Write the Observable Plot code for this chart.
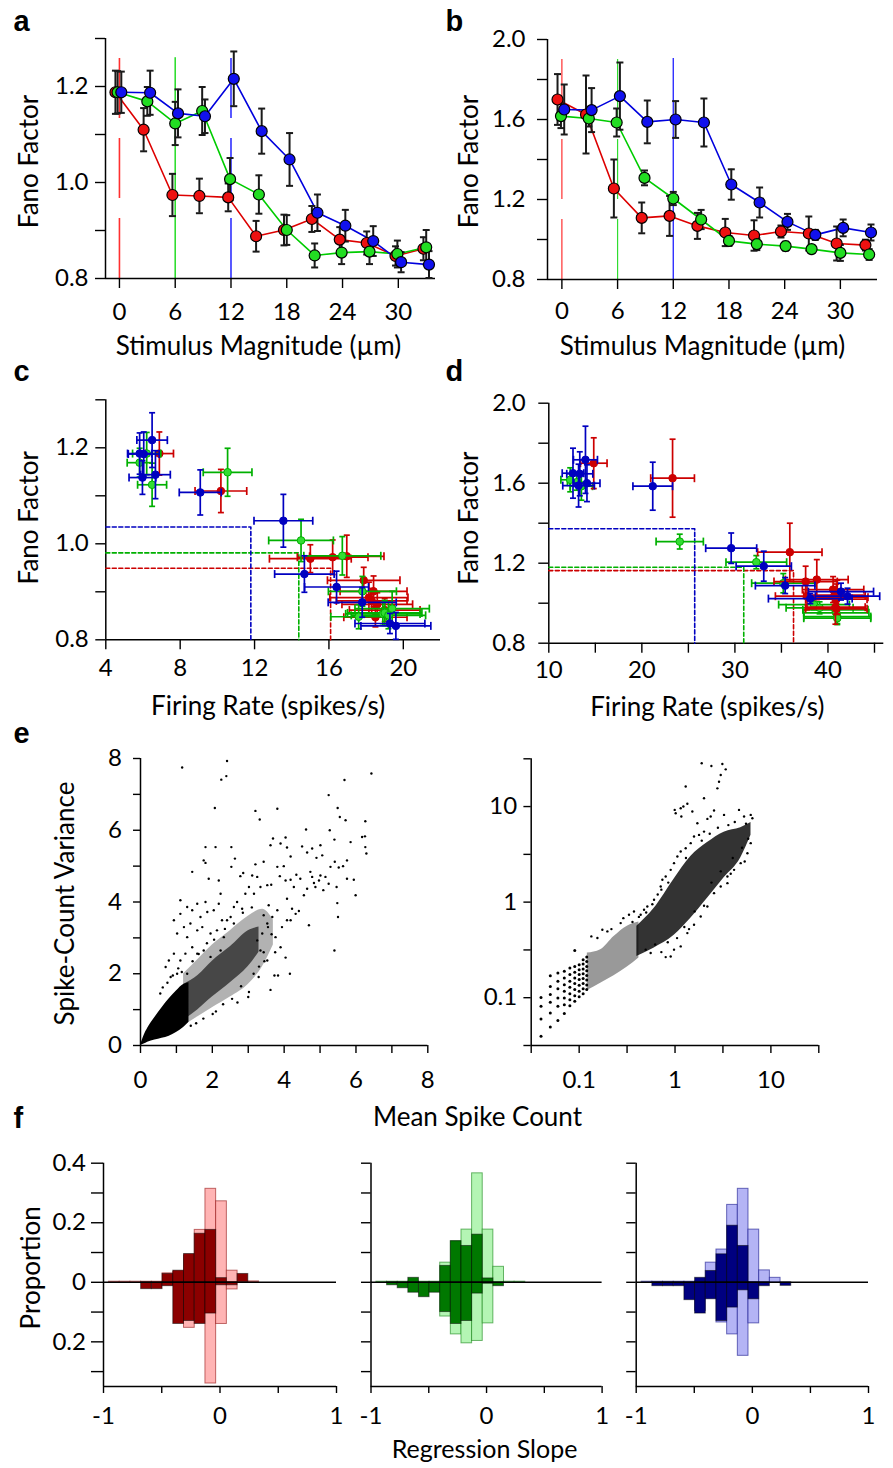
<!DOCTYPE html>
<html><head><meta charset="utf-8">
<script src="https://cdn.jsdelivr.net/npm/d3@7"></script>
<script src="https://cdn.jsdelivr.net/npm/@observablehq/plot@0.6"></script>
<style>
body{margin:0;background:#fff;}
#root{position:relative;width:893px;height:1468px;overflow:hidden;background:#fff;}
</style></head>
<body><div id="root"></div>
<script>
// ================= DATA =================
// Panel a (Fano factor vs stimulus magnitude)
const stimLines = [0, 6, 12];
const aRedX   = [-0.43,2.6,5.7,8.6,11.7,14.7,17.7,20.7,23.7,26.6,29.7,32.7];
const aRedY   = [1.188,1.110,0.974,0.972,0.969,0.888,0.901,0.924,0.881,0.874,0.847,0.862];
const aRedE   = [0.045,0.045,0.044,0.036,0.029,0.032,0.032,0.027,0.026,0.024,0.020,0.024];
const aGreenX = [-0.2,3.0,6.0,8.9,11.9,15.0,18.0,21.0,23.9,26.9,29.9,33.0];
const aGreenY = [1.188,1.169,1.123,1.149,1.007,0.975,0.901,0.848,0.854,0.856,0.851,0.865];
const aGreenE = [0.044,0.030,0.045,0.050,0.044,0.040,0.031,0.025,0.024,0.026,0.028,0.036];
const aBlueX  = [0.2,3.3,6.3,9.2,12.3,15.3,18.3,21.3,24.3,27.3,30.3,33.3];
const aBlueY  = [1.188,1.187,1.144,1.138,1.216,1.107,1.048,0.937,0.910,0.878,0.834,0.829];
const aBlueE  = [0.043,0.046,0.050,0.035,0.057,0.047,0.055,0.038,0.033,0.031,0.021,0.028];
// Panel b
const bRedX   = [-0.47,2.6,5.6,8.6,11.6,14.6,17.6,20.7,23.6,26.6,29.6,32.7];
const bRedY   = [1.700,1.625,1.255,1.108,1.118,1.068,1.035,1.020,1.040,1.030,0.980,0.972];
const bRedE   = [0.127,0.195,0.145,0.077,0.100,0.065,0.068,0.076,0.030,0.085,0.085,0.027];
const bGreenX = [-0.1,2.9,5.9,8.9,12.0,15.0,18.0,21.0,24.1,26.9,30.0,33.1];
const bGreenY = [1.617,1.605,1.585,1.308,1.205,1.100,0.993,0.977,0.967,0.952,0.933,0.925];
const bGreenE = [0.060,0.040,0.070,0.037,0.033,0.048,0.025,0.030,0.022,0.020,0.040,0.027];
const bBlueX  = [0.25,3.2,6.25,9.2,12.25,15.3,18.25,21.3,24.3,27.3,30.3,33.3];
const bBlueY  = [1.650,1.647,1.717,1.588,1.600,1.585,1.275,1.185,1.088,1.023,1.058,1.035];
const bBlueE  = [0.125,0.110,0.168,0.107,0.092,0.120,0.076,0.075,0.040,0.025,0.042,0.040];
// Panel c (firing rate for the Fano factors of panel a)
const cRedRate    = [6.88,10.19,16.96,16.2,15.0,18.15,18.4,17.87,18.3,18.6,18.5,19.0];
const cRedRateE   = [0.76,1.39,2.0,1.9,2.2,2.1,1.8,1.95,1.9,1.9,1.7,1.9];
const cGreenRate  = [6.2,5.82,6.49,10.55,14.5,16.72,17.8,17.6,18.9,19.0,19.2,19.4];
const cGreenRateE = [0.76,0.67,0.78,1.31,1.74,2.07,1.83,1.5,2.0,2.0,2.0,2.0];
const cBlueRate   = [5.82,6.04,6.67,5.97,6.49,9.08,13.55,14.68,16.41,17.79,19.28,19.6];
const cBlueRateE  = [0.65,0.83,0.8,0.72,0.82,1.13,1.58,1.6,1.72,1.83,1.88,1.88];
const cThreshRate = [16.09,14.38,11.8];   // red, green, blue
const cThreshFano = [0.949,0.981,1.035];
// Panel d (firing rate for the Fano factors of panel b)
const dRedRate    = [14.83,23.3,35.9,37.6,38.8,40.55,37.75,40.9,40.7,41.0,40.8,40.9];
const dRedRateE   = [1.43,2.35,3.46,3.4,3.37,3.3,3.4,3.3,3.3,3.3,3.2,3.3];
const dGreenRate  = [12.3,13.0,13.5,24.07,32.3,35.2,38.5,39.1,40.8,40.9,41.0,41.0];
const dGreenRateE = [1.0,1.0,1.2,2.54,3.26,3.4,3.8,3.6,3.5,3.5,3.6,3.6];
const dBlueRate   = [12.6,13.33,13.94,13.2,14.1,21.17,29.6,33.1,35.4,38.1,41.4,42.1];
const dBlueRateE  = [1.16,1.4,1.29,1.7,1.4,2.13,2.74,2.97,3.2,4.5,3.5,3.46];
const dThreshRate = [36.3,30.95,25.68];
const dThreshFano = [1.163,1.180,1.372];
// Panel e, linear: dense core outline, dense band outlines, individual points
const eCoreMean = [0,0.1,0.2,0.4,0.6,0.8,1.0,1.2,1.35];
const eCoreLo   = [0,0.04,0.09,0.15,0.2,0.26,0.36,0.5,0.65];
const eCoreHi   = [0,0.28,0.48,0.78,1.05,1.3,1.52,1.7,1.75];
const eBandMean = [1.2,1.6,2.0,2.5,3.0,3.4,3.7];
const eBandLo   = [0.55,0.8,1.05,1.35,1.7,2.2,2.8];
const eBandHi   = [2.0,2.4,2.8,3.2,3.6,3.8,3.5];
const eInnerMean = [1.2,1.6,2.0,2.5,3.0,3.3];
const eInnerLo   = [0.7,1.0,1.35,1.75,2.2,2.6];
const eInnerHi   = [1.7,1.95,2.35,2.75,3.2,3.3];
const eLinPts = [
[1.16,7.75],[2.41,7.93],[2.25,7.41],[2.39,7.51],[2.07,6.62],[6.43,7.58],[5.68,7.40],[5.24,6.98],[5.49,6.62],[5.55,6.37],
[5.71,6.28],[6.26,6.25],[3.20,6.54],[3.32,6.30],[3.81,6.60],[6.17,5.81],[6.25,5.83],[6.26,5.53],[6.29,5.35],[5.85,5.67],
[5.27,6.00],[4.61,6.02],[5.40,5.74],[5.75,5.16],[5.64,5.00],[5.75,4.65],[5.94,4.62],[5.99,4.19],[5.48,3.97],[5.50,3.58],
[5.40,2.65],[4.69,3.35],[4.16,2.00],[4.04,2.45],[3.62,1.55],[3.73,1.95],[3.83,1.95],[3.29,1.91],[3.02,1.49],[2.01,0.88],
[1.81,5.53],[2.09,5.53],[2.53,5.53],[1.44,4.84],[1.76,5.16],[1.81,5.09],[1.90,4.65],[2.18,4.60],[2.23,4.23],[2.63,5.21],
[2.53,4.98],[2.78,4.72],[2.86,4.81],[3.11,4.74],[3.20,5.05],[3.43,5.12],[3.62,5.58],[3.69,5.77],[3.90,5.63],[4.04,5.80],
[4.08,5.52],[4.18,5.27],[4.50,5.55],[4.64,5.38],[4.78,5.49],[4.90,5.23],[5.01,5.58],[5.06,5.30],[3.53,4.47],[3.64,4.48],
[3.81,4.98],[3.88,4.72],[3.99,5.00],[4.04,4.60],[4.18,4.62],[4.27,4.42],[4.34,4.76],[4.45,4.65],[4.55,4.19],[4.64,4.37],
[4.78,4.70],[4.83,4.53],[4.87,4.42],[4.97,4.60],[5.09,4.33],[5.15,4.70],[5.24,4.51],[5.29,4.98],[5.41,5.12],[5.46,4.42],
[5.52,4.96],[5.01,4.74],[4.73,4.84],[4.22,3.81],[4.18,3.49],[4.32,3.67],[4.41,3.75],[4.08,3.49],[4.08,4.09],[3.81,3.77],
[3.94,3.30],[3.57,3.91],[3.67,3.58],[3.53,3.40],[3.43,3.63],[3.39,3.12],[3.90,2.74],[3.76,3.02],[3.43,2.60],[3.53,2.37],
[3.34,2.65],[3.25,2.93],[1.11,4.05],[1.30,3.86],[1.44,3.77],[1.58,3.95],[1.67,3.58],[1.81,4.00],[1.86,3.72],[2.04,3.77],
[2.18,3.95],[2.27,3.49],[2.41,3.49],[2.51,3.58],[2.60,3.86],[2.69,4.00],[2.83,3.81],[2.92,4.23],[3.02,4.42],[3.16,4.23],
[3.25,4.70],[3.34,4.42],[1.21,3.30],[1.39,3.40],[1.58,3.21],[1.72,3.30],[1.95,3.12],[2.13,3.21],[2.32,3.02],[1.11,3.67],
[0.93,3.49],[1.02,3.12],[1.30,3.02],[1.44,2.74],[1.58,2.56],[0.93,2.56],[1.11,2.37],[1.30,2.00],[0.79,2.37],[0.70,2.19],
[0.84,1.91],[1.02,2.00],[1.25,2.56],[1.76,2.65],[1.95,2.47],[2.23,2.65],[0.55,1.45],[0.62,1.62],[0.75,1.75],[0.9,1.95],
[1.05,2.15],[1.15,2.05],[1.45,2.35],[1.62,2.55],[1.85,2.85],[2.05,2.95],[2.35,3.25],[2.6,3.4],[2.85,3.7],[3.1,3.85],
[3.55,3.3],[3.65,3.1],[3.3,2.2],[3.15,2.0],[2.8,1.65],[2.55,1.3],[2.3,1.15],[2.1,0.95],[1.75,0.75],[1.55,0.62],
[1.4,0.55],[3.45,2.35],[3.75,2.6],[3.0,1.35],[2.7,1.2]
];
// Panel e, log: dense core, low-count fan, discrete low-count columns, individual points
const eLogCoreMean = [0.40,0.60,0.98,1.46,2.18,3.25,4.84,6.2];
const eLogCoreLo   = [0.27,0.33,0.45,0.68,1.1,1.8,2.9,5.0];
const eLogCoreHi   = [0.56,0.85,1.75,3.0,4.2,5.4,6.0,6.8];
const eFanMean = [0.1217,0.1676,0.231,0.318,0.42];
const eFanLo   = [0.119,0.142,0.170,0.209,0.26];
const eFanHi   = [0.293,0.318,0.437,0.56,0.62];
const latticeMean = [0.04,0.05,0.06,0.07,0.08,0.09,0.10,0.11,0.12];
const latticeVar = [
 [0.1006,0.0813,0.0600,0.0396],
 [0.1693,0.1311,0.1077,0.0894,0.0691,0.0494],
 [0.1813,0.1484,0.1237,0.0993,0.0813,0.0576],
 [0.1887,0.1609,0.1369,0.1167,0.0993,0.0846,0.0683],
 [0.2045,0.1745,0.1484,0.1283,0.1102,0.0954,0.0825],
 [0.3124,0.2125,0.1841,0.1609,0.1404,0.1215,0.1050,0.0916],
 [0.2214,0.1962,0.1745,0.1546,0.1351,0.1167,0.1020],
 [0.2497,0.2250,0.1997,0.1785,0.1584,0.1404,0.1237,0.1102],
 [0.266,0.2398,0.2125,0.1917,0.1711,0.1530,0.1357,0.1215]
];
const eLogPts = [
[1.898,28.4],[2.394,26.6],[3.117,27.9],[3.378,24.5],[2.996,21.4],[2.877,18.2],[2.766,15.5],[1.292,16.2],[2.007,12.2],[1.345,10.7],
[1.222,10.0],[1.146,9.61],[0.992,9.23],[1.016,8.51],[1.164,7.86],[1.516,8.87],[2.552,9.08],[2.355,7.86],[2.175,7.43],[3.245,8.18],
[4.65,9.23],[5.25,7.86],[6.16,8.18],[6.41,7.55],[5.33,2.66],[3.81,1.98],[3.52,1.58],[2.007,0.915],[1.40,0.522],[0.901,0.270],
[0.799,0.266],[0.557,0.293],[0.494,0.318],[0.155,0.421],[0.134,0.438],[0.1745,0.514],[0.197,0.494],[0.217,0.522],[0.271,0.603],
[0.289,0.680],[0.331,0.738],[0.373,0.799],[0.438,0.737],[0.475,0.831],[0.514,0.901],[0.604,1.058],[0.709,1.458],[0.738,1.712],
[0.799,1.855],[0.901,2.177],[0.976,2.556],[1.058,3.0],[1.146,3.385],[1.292,3.667],[1.457,4.14],[1.578,4.86],[1.78,5.05],
[2.007,5.47],[1.71,6.69],[0.976,0.318],[1.146,0.344],[1.345,0.474],[1.578,0.579],[1.853,0.708],[2.175,0.901],[2.552,1.242],
[2.996,1.458],[3.52,1.855],[4.13,2.177],[4.84,2.556],[5.69,3.25],[6.16,4.14],[0.36,0.62],[0.42,0.7],[0.5,0.78],[0.58,0.95],
[0.66,1.2],[0.72,1.35],[0.85,1.6],[0.62,0.36],[0.72,0.3],[0.84,0.38],[1.05,0.42],[1.25,0.55],[1.6,0.8],[2.4,1.6],[3.0,2.1],
[4.0,2.9],[5.0,3.7],[5.8,4.6],[5.5,6.6],[4.2,6.9],[3.6,6.4],[2.8,6.0],[2.3,5.2],[1.9,4.4],[1.3,2.9]
];
// Panel f: histogram bins and proportions (up = first condition, down = second condition)
const binEdges = [-0.953,-0.861,-0.769,-0.677,-0.585,-0.493,-0.401,-0.309,-0.217,-0.125,-0.033,0.059,0.151,0.243,0.335];
const f1DarkUp    = [0,0,0,0,0,0.028,0.039,0.095,0.163,0.176,0.014,0,0.028,0];
const f1LightUp   = [0.002,0.002,0.002,0.002,0.002,0.030,0.035,0.090,0.176,0.314,0.272,0.039,0,0.003];
const f1DarkDown  = [0,0,0,0.023,0.023,0.013,0.140,0.130,0.140,0.105,0.010,0.010,0,0];
const f1LightDown = [0,0,0,0,0,0.010,0.010,0.153,0.096,0.340,0.140,0.024,0,0];
const f2DarkUp    = [0,0,0,0.015,0,0,0.055,0.138,0.122,0.160,0.013,0,0,0];
const f2LightUp   = [0.002,0.002,0.002,0.002,0.002,0.002,0.066,0.138,0.177,0.366,0.177,0.052,0.002,0.002];
const f2DarkDown  = [0,0.010,0.020,0.035,0.050,0.035,0.100,0.140,0.130,0.038,0.005,0.013,0,0];
const f2LightDown = [0,0,0,0,0,0,0.115,0.175,0.205,0.197,0.138,0,0,0];
const f3DarkUp    = [0,0,0,0,0,0.015,0.038,0.094,0.190,0.122,0,0,0,0];
const f3LightUp   = [0.002,0.002,0.002,0.002,0.002,0.002,0.066,0.110,0.260,0.314,0.177,0.040,0.015,0];
const f3DarkDown  = [0,0.013,0.013,0.013,0.060,0.105,0.057,0.130,0.085,0.027,0.057,0.013,0,0.012];
const f3LightDown = [0,0,0,0,0,0.096,0.050,0.135,0.175,0.247,0.138,0,0,0];

// Tick arrays
const fanoTicksA = [0.8,0.9,1.0,1.1,1.2,1.3], fanoLabelsA = [0.8,1.0,1.2];
const fanoTicksB = [0.8,1.0,1.2,1.4,1.6,1.8,2.0], fanoLabelsB = [0.8,1.2,1.6,2.0];
const stimTicks = [0,6,12,18,24,30];
const rateTicksC = [4,8,12,16,20];
const rateTicksD = [10,15,20,25,30,35,40,45], rateLabelsD = [10,20,30,40];
const linTicks = [0,1,2,3,4,5,6,7,8], linLabels = [0,2,4,6,8];
const logTicks = [0.0316,0.1,0.316,1,3.16,10,31.6], logLabels = [0.1,1,10];
const slopeTicks = [-1,-0.5,0,0.5,1], slopeLabels = [-1,0,1];
const propTicks = [-0.3,-0.2,-0.1,0,0.1,0.2,0.3,0.4], propLabels = [0.4,0.2,0,-0.2];

// ================= DRAWING =================
const root = document.getElementById("root");
const FONT = "Lato, 'Open Sans', sans-serif";
const TICKFS = 24, TITLEFS = 26;
function chart(o){
  const [fx0,fx1,fy0,fy1] = o.frame;
  const svg = Plot.plot({
    width:o.width, height:o.height,
    marginLeft:fx0-o.left, marginRight:o.left+o.width-fx1,
    marginTop:fy0-o.top, marginBottom:o.top+o.height-fy1,
    x:o.x, y:o.y,
    style:{fontFamily:FONT, fontSize:TICKFS+"px", color:"#000", background:"transparent", overflow:"visible"},
    marks:o.marks
  });
  svg.style.position = "absolute";
  svg.style.left = o.left+"px";
  svg.style.top = o.top+"px";
  root.appendChild(svg);
}
const capH = {draw(ctx, size){ const r = Math.sqrt(size/Math.PI); ctx.moveTo(-r,0); ctx.lineTo(r,0); }};
const capV = {draw(ctx, size){ const r = Math.sqrt(size/Math.PI); ctx.moveTo(0,-r); ctx.lineTo(0,r); }};
const fmt1 = d => d.toFixed(1);
function yAx(ticks, labels, fmt, size, pad){
  return Plot.axisY(ticks, {tickSize:size, tickPadding:pad, label:null, strokeWidth:1.4, fontSize:TICKFS,
    tickFormat: d => labels.includes(d) ? fmt(d) : ""});
}
function xAx(ticks, labels, fmt, size, pad){
  return Plot.axisX(ticks, {tickSize:size, tickPadding:pad, label:null, strokeWidth:1.4, fontSize:TICKFS,
    tickFormat: d => labels.includes(d) ? fmt(d) : ""});
}
function frameLines(xmin, ymin){
  return [Plot.ruleX([xmin], {stroke:"#000", strokeWidth:1.5}), Plot.ruleY([ymin], {stroke:"#000", strokeWidth:1.5})];
}
function txt(s, o){ return Plot.text([s], {text:d=>d, fontSize:TITLEFS, fill:"#000", textAnchor:"middle", lineAnchor:"middle", ...o}); }
function letter(s, dx, dy){
  return Plot.text([s], {text:d=>d, frameAnchor:"top-left", textAnchor:"start", lineAnchor:"bottom",
    dx, dy, fontWeight:"bold", fontSize:29, fontFamily:"'Liberation Sans', Arial, sans-serif", fill:"#000"});
}
const rowsOf = (X,Y,E) => X.map((x,i)=>({x, y:Y[i], lo:Y[i]-E[i], hi:Y[i]+E[i]}));
function tuning(series, lineW){
  const marks = [];
  for (const s of series) marks.push(Plot.line(s.rows, {x:"x", y:"y", stroke:s.line, strokeWidth:lineW}));
  for (const s of series) {
    marks.push(Plot.ruleX(s.rows, {x:"x", y1:"lo", y2:"hi", stroke:"#1a1a1a", strokeWidth:2}));
    marks.push(Plot.dot(s.rows, {x:"x", y:"lo", symbol:capH, r:3.5, stroke:"#1a1a1a", strokeWidth:2, fill:"none"}));
    marks.push(Plot.dot(s.rows, {x:"x", y:"hi", symbol:capH, r:3.5, stroke:"#1a1a1a", strokeWidth:2, fill:"none"}));
  }
  for (const s of series) marks.push(Plot.dot(s.rows, {x:"x", y:"y", r:5.5, fill:s.fill, stroke:"#000", strokeWidth:1.2}));
  return marks;
}
function xyErr(rate, rateE, fano, fanoE, color, ptFill){
  const rows = rate.map((x,i)=>({x, y:fano[i], xl:x-rateE[i], xh:x+rateE[i], yl:fano[i]-fanoE[i], yh:fano[i]+fanoE[i]}));
  const st = {stroke:color, strokeWidth:1.7, fill:"none"};
  return [
    Plot.link(rows, {x1:"xl", x2:"xh", y1:"y", y2:"y", ...st}),
    Plot.link(rows, {x1:"x", x2:"x", y1:"yl", y2:"yh", ...st}),
    Plot.dot(rows, {x:"xl", y:"y", symbol:capV, r:4, ...st}),
    Plot.dot(rows, {x:"xh", y:"y", symbol:capV, r:4, ...st}),
    Plot.dot(rows, {x:"x", y:"yl", symbol:capH, r:3, ...st}),
    Plot.dot(rows, {x:"x", y:"yh", symbol:capH, r:3, ...st}),
    Plot.dot(rows, {x:"x", y:"y", r:3.8, fill:ptFill, stroke:color, strokeWidth:1})
  ];
}
function threshMarks(xmin, ymin, rates, fanos, colors){
  return rates.map((r,i) => Plot.line([[xmin, fanos[i]],[r, fanos[i]],[r, ymin]],
    {x:d=>d[0], y:d=>d[1], stroke:colors[i], strokeWidth:1.6, strokeDasharray:"4,2.5"}));
}
const RED="#ee1111", GREEN="#22dd22", BLUE="#1111ee";
const RED2="#cc0000", GREEN2="#00b000", BLUE2="#0000c0";

// ---------- a ----------
chart({left:0, top:0, width:440, height:362, frame:[105,435,38,278],
  x:{domain:[-1.5,34]}, y:{domain:[0.8,1.3]},
  marks:[
    Plot.ruleX([stimLines[0]], {y1:0.8, y2:1.26, stroke:"#ff3030", strokeWidth:1.6, strokeDasharray:"60,20"}),
    Plot.ruleX([stimLines[1]], {y1:0.8, y2:1.26, stroke:"#30dd30", strokeWidth:1.6}),
    Plot.ruleX([stimLines[2]], {y1:0.8, y2:1.26, stroke:"#3030ff", strokeWidth:1.6, strokeDasharray:"60,20"}),
    ...frameLines(-1.5, 0.8),
    yAx(fanoTicksA, fanoLabelsA, fmt1, 10, 7),
    xAx(stimTicks, stimTicks, String, 10, 14),
    ...tuning([
      {rows:rowsOf(aRedX,aRedY,aRedE), line:"#dd0000", fill:RED},
      {rows:rowsOf(aGreenX,aGreenY,aGreenE), line:"#00cc00", fill:GREEN},
      {rows:rowsOf(aBlueX,aBlueY,aBlueE), line:"#0000dd", fill:BLUE}], 1.6),
    txt("Stimulus Magnitude (µm)", {frameAnchor:"bottom", dx:-12, dy:68}),
    txt("Fano Factor", {frameAnchor:"left", rotate:-90, dx:-76, dy:3}),
    letter("a", 13-105, 30-38)
  ]});

// ---------- b ----------
chart({left:440, top:0, width:453, height:362, frame:[547,877,39,279],
  x:{domain:[-1.55,34]}, y:{domain:[0.8,2.0]},
  marks:[
    Plot.ruleX([stimLines[0]], {y1:0.8, y2:1.905, stroke:"#ff3030", strokeWidth:1.2, strokeDasharray:"60,20"}),
    Plot.ruleX([stimLines[1]], {y1:0.8, y2:1.905, stroke:"#30dd30", strokeWidth:1.2, strokeDasharray:"60,20"}),
    Plot.ruleX([stimLines[2]], {y1:0.8, y2:1.905, stroke:"#3030ff", strokeWidth:1.4}),
    ...frameLines(-1.55, 0.8),
    yAx(fanoTicksB, fanoLabelsB, fmt1, 10, 12),
    xAx(stimTicks, stimTicks, String, 10, 12.5),
    ...tuning([
      {rows:rowsOf(bRedX,bRedY,bRedE), line:"#dd0000", fill:RED},
      {rows:rowsOf(bGreenX,bGreenY,bGreenE), line:"#00cc00", fill:GREEN},
      {rows:rowsOf(bBlueX,bBlueY,bBlueE), line:"#0000dd", fill:BLUE}], 1.6),
    txt("Stimulus Magnitude (µm)", {frameAnchor:"bottom", dx:-10, dy:67}),
    txt("Fano Factor", {frameAnchor:"left", rotate:-90, dx:-78, dy:2}),
    letter("b", 445-547, 30-39)
  ]});

// ---------- c ----------
chart({left:0, top:362, width:440, height:362, frame:[105.3,440,399.3,639.3],
  x:{domain:[4,22]}, y:{domain:[0.8,1.3]},
  marks:[
    ...frameLines(4, 0.8),
    yAx(fanoTicksA, fanoLabelsA, fmt1, 10, 7),
    xAx(rateTicksC, rateTicksC, String, 10, 9),
    ...threshMarks(4, 0.8, cThreshRate, cThreshFano, [RED2, GREEN2, BLUE2]),
    ...xyErr(cRedRate, cRedRateE, aRedY, aRedE, RED2, RED2),
    ...xyErr(cGreenRate, cGreenRateE, aGreenY, aGreenE, GREEN2, "#33dd33"),
    ...xyErr(cBlueRate, cBlueRateE, aBlueY, aBlueE, BLUE2, BLUE2),
    txt("Firing Rate (spikes/s)", {frameAnchor:"bottom", dx:-5, dy:67}),
    txt("Fano Factor", {frameAnchor:"left", rotate:-90, dx:-76, dy:-2}),
    letter("c", 13-105.3, 380-399.3)
  ]});

// ---------- d ----------
chart({left:440, top:362, width:453, height:362, frame:[548.3,883.3,402.7,642.7],
  x:{domain:[10,46]}, y:{domain:[0.8,2.0]},
  marks:[
    ...frameLines(10, 0.8),
    yAx(fanoTicksB, fanoLabelsB, fmt1, 10, 13),
    xAx(rateTicksD, rateLabelsD, String, 10, 7.5),
    ...threshMarks(10, 0.8, dThreshRate, dThreshFano, [RED2, GREEN2, BLUE2]),
    ...xyErr(dGreenRate, dGreenRateE, bGreenY, bGreenE, GREEN2, "#33dd33"),
    ...xyErr(dRedRate, dRedRateE, bRedY, bRedE, RED2, RED2),
    ...xyErr(dBlueRate, dBlueRateE, bBlueY, bBlueE, BLUE2, BLUE2),
    txt("Firing Rate (spikes/s)", {frameAnchor:"bottom", dx:-9, dy:64}),
    txt("Fano Factor", {frameAnchor:"left", rotate:-90, dx:-79, dy:-5}),
    letter("d", 445-548.3, 380-402.7)
  ]});

// ---------- e (linear) ----------
const coreRows = eCoreMean.map((x,i)=>({x, lo:eCoreLo[i], hi:eCoreHi[i]}));
const bandRows = eBandMean.map((x,i)=>({x, lo:eBandLo[i], hi:eBandHi[i]}));
const innerRows = eInnerMean.map((x,i)=>({x, lo:eInnerLo[i], hi:eInnerHi[i]}));
chart({left:0, top:724, width:440, height:416, frame:[140,427.3,758,1045],
  x:{domain:[0,8]}, y:{domain:[0,8]},
  marks:[
    ...frameLines(0, 0),
    yAx(linTicks, linLabels, String, 7, 11.5),
    xAx(linTicks, linLabels, String, 8, 17),
    Plot.areaY(bandRows, {x:"x", y1:"lo", y2:"hi", fill:"#000", fillOpacity:0.3, curve:"monotone-x"}),
    Plot.areaY(innerRows, {x:"x", y1:"lo", y2:"hi", fill:"#000", fillOpacity:0.6, curve:"monotone-x"}),
    Plot.areaY(coreRows, {x:"x", y1:"lo", y2:"hi", fill:"#000", curve:"monotone-x"}),
    Plot.dot(eLinPts, {x:d=>d[0], y:d=>d[1], r:1.2, fill:"#000", stroke:"none"}),
    txt("Spike-Count Variance", {frameAnchor:"left", rotate:-90, dx:-75, dy:1.5}),
    txt("Mean Spike Count", {frameAnchor:"bottom", dx:477-283.65, dy:72}),
    letter("e", 13-140, 742-758),
    letter("f", 13-140, 1127-758)
  ]});

// ---------- e (log) ----------
const logCoreRows = eLogCoreMean.map((x,i)=>({x, lo:eLogCoreLo[i], hi:eLogCoreHi[i]}));
const fanRows = eFanMean.map((x,i)=>({x, lo:eFanLo[i], hi:eFanHi[i]}));
const latticeRows = latticeMean.flatMap((m,i)=>latticeVar[i].map(v=>({m, v})));
const logFmt = d => String(d);
chart({left:440, top:724, width:453, height:416, frame:[530.7,818.3,758.3,1045],
  x:{type:"log", domain:[0.0316,31.6]}, y:{type:"log", domain:[0.0316,31.6]},
  marks:[
    ...frameLines(0.0316, 0.0316),
    yAx(logTicks, logLabels, logFmt, 7.3, 6.7),
    xAx(logTicks, logLabels, logFmt, 8, 17),
    Plot.areaY(fanRows, {x:"x", y1:"lo", y2:"hi", fill:"#000", fillOpacity:0.4, curve:"monotone-x"}),
    Plot.areaY(logCoreRows, {x:"x", y1:"lo", y2:"hi", fill:"#000", fillOpacity:0.8, curve:"monotone-x"}),
    Plot.dot(latticeRows, {x:"m", y:"v", r:1.5, fill:"#000", stroke:"none"}),
    Plot.dot(eLogPts, {x:d=>d[0], y:d=>d[1], r:1.2, fill:"#000", stroke:"none"})
  ]});

// ---------- f ----------
function histMarks(dUp, lUp, dDn, lDn, dark, light){
  const rows = (vals, sign) => vals.map((v,i)=>({x1:binEdges[i], x2:binEdges[i+1], y:sign*v})).filter(r=>r.y!==0);
  return [
    Plot.rect(rows(lUp,1), {x1:"x1", x2:"x2", y1:0, y2:"y", fill:light, stroke:dark, strokeOpacity:0.55, strokeWidth:1}),
    Plot.rect(rows(lDn,-1), {x1:"x1", x2:"x2", y1:0, y2:"y", fill:light, stroke:dark, strokeOpacity:0.55, strokeWidth:1}),
    Plot.rect(rows(dUp,1), {x1:"x1", x2:"x2", y1:0, y2:"y", fill:dark, stroke:"#000", strokeOpacity:0.5, strokeWidth:1}),
    Plot.rect(rows(dDn,-1), {x1:"x1", x2:"x2", y1:0, y2:"y", fill:dark, stroke:"#000", strokeOpacity:0.5, strokeWidth:1}),
    Plot.ruleY([0], {stroke:"#000", strokeWidth:1.4})
  ];
}
const propFmt = d => d === 0 ? "0" : Math.abs(d).toFixed(1);
const slopeFmt = d => String(d);
const fY = {domain:[-0.35,0.4]}, fX = {domain:[-1,1]};
chart({left:0, top:1140, width:352, height:328, frame:[103,336,1162.7,1386], x:fX, y:fY,
  marks:[
    ...histMarks(f1DarkUp, f1LightUp, f1DarkDown, f1LightDown, "#8b0000", "#ffb4b4"),
    ...frameLines(-1, -0.35),
    yAx(propTicks, propLabels, propFmt, 12, 5.6),
    xAx(slopeTicks, slopeLabels, slopeFmt, 7, 13.7),
    txt("Proportion", {frameAnchor:"left", rotate:-90, dx:-72, dy:-7})
  ]});
chart({left:352, top:1140, width:268, height:328, frame:[370.5,601.6,1162.7,1386], x:fX, y:fY,
  marks:[
    ...histMarks(f2DarkUp, f2LightUp, f2DarkDown, f2LightDown, "#007800", "#b4f5b4"),
    ...frameLines(-1, -0.35),
    yAx(propTicks, [], propFmt, 9.5, 5),
    xAx(slopeTicks, slopeLabels, slopeFmt, 7, 13.7),
    txt("Regression Slope", {frameAnchor:"bottom", dx:-2, dy:63, fontSize:25})
  ]});
chart({left:620, top:1140, width:273, height:328, frame:[635.7,868,1162.7,1386], x:fX, y:fY,
  marks:[
    ...histMarks(f3DarkUp, f3LightUp, f3DarkDown, f3LightDown, "#000080", "#b4b4f5"),
    ...frameLines(-1, -0.35),
    yAx(propTicks, [], propFmt, 9.5, 5),
    xAx(slopeTicks, slopeLabels, slopeFmt, 7, 13.7)
  ]});
</script></body></html>
